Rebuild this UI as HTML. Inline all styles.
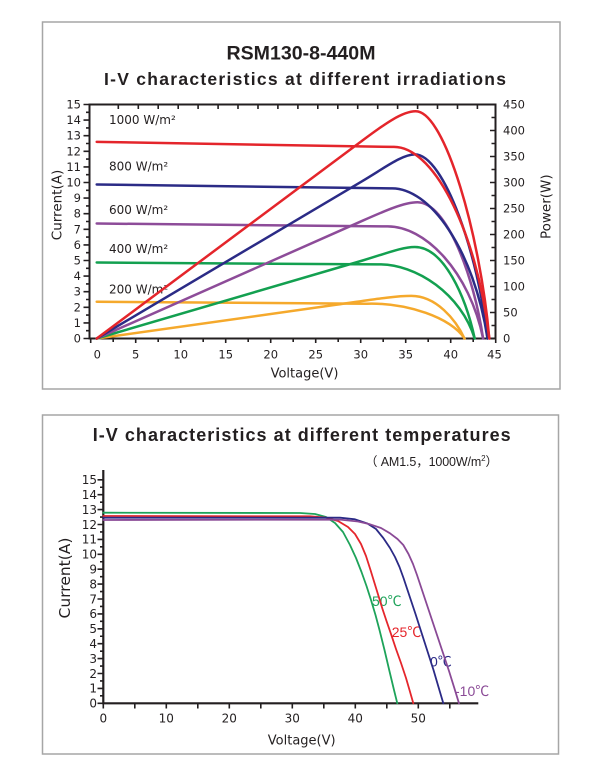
<!DOCTYPE html>
<html><head><meta charset="utf-8"><style>
html,body{margin:0;padding:0;background:#fff;}
svg{display:block;}
.t{font-family:"Liberation Sans","Noto Sans CJK SC",sans-serif;fill:#231f20;}
.d{font-family:"DejaVu Sans","Liberation Sans",sans-serif;fill:#231f20;}
</style></head><body>
<svg width="600" height="771" viewBox="0 0 600 771" xmlns="http://www.w3.org/2000/svg">
<rect x="0" y="0" width="600" height="771" fill="#fff"/>
<!-- ============ TOP PANEL ============ -->
<rect x="42.5" y="22" width="517.5" height="367" fill="none" stroke="#a6a6a6" stroke-width="1.5"/>
<text class="t" x="301" y="59.5" font-size="19.5" font-weight="bold" text-anchor="middle" textLength="149" lengthAdjust="spacingAndGlyphs">RSM130-8-440M</text>
<text class="t" x="104" y="85" font-size="17.5" font-weight="bold" textLength="402" lengthAdjust="spacing">I-V characteristics at different irradiations</text>

<!-- irradiance labels -->
<g class="d" font-size="12">
<text x="109" y="124">1000 W/m²</text>
<text x="109" y="170.7">800 W/m²</text>
<text x="109" y="214">600 W/m²</text>
<text x="109" y="253">400 W/m²</text>
<text x="109" y="293.3">200 W/m²</text>
</g>

<!-- frame -->
<rect x="89.5" y="104.5" width="406" height="234" fill="none" stroke="#231f20" stroke-width="2"/>
<!-- left ticks -->
<path stroke="#231f20" stroke-width="1.6" fill="none" d="M83.5,338.5H89.5M83.5,322.9H89.5M83.5,307.3H89.5M83.5,291.7H89.5M83.5,276.1H89.5M83.5,260.5H89.5M83.5,244.9H89.5M83.5,229.3H89.5M83.5,213.7H89.5M83.5,198.1H89.5M83.5,182.5H89.5M83.5,166.9H89.5M83.5,151.3H89.5M83.5,135.7H89.5M83.5,120.1H89.5M83.5,104.5H89.5
M86,330.7H89.5M86,315.1H89.5M86,299.5H89.5M86,283.9H89.5M86,268.3H89.5M86,252.7H89.5M86,237.1H89.5M86,221.5H89.5M86,205.9H89.5M86,190.3H89.5M86,174.7H89.5M86,159.1H89.5M86,143.5H89.5M86,127.9H89.5M86,112.3H89.5"/>
<!-- right ticks -->
<path stroke="#231f20" stroke-width="1.6" fill="none" d="M490,338.5H495.5M490,312.5H495.5M490,286.5H495.5M490,260.5H495.5M490,234.5H495.5M490,208.5H495.5M490,182.5H495.5M490,156.5H495.5M490,130.5H495.5M490,104.5H495.5
M491.5,325.5H495.5M491.5,299.5H495.5M491.5,273.5H495.5M491.5,247.5H495.5M491.5,221.5H495.5M491.5,195.5H495.5M491.5,169.5H495.5M491.5,143.5H495.5M491.5,117.5H495.5"/>
<!-- bottom ticks -->
<path stroke="#231f20" stroke-width="1.6" fill="none" d="M90.7,338.5V343M113.2,338.5V342M135.7,338.5V343M158.2,338.5V342M180.7,338.5V343M203.2,338.5V342M225.7,338.5V343M248.2,338.5V342M270.7,338.5V343M293.2,338.5V342M315.7,338.5V343M338.2,338.5V342M360.7,338.5V343M383.2,338.5V342M405.7,338.5V343M428.2,338.5V342M450.7,338.5V343M473.2,338.5V342M495.7,338.5V343"/>
<!-- top ticks -->
<path stroke="#231f20" stroke-width="1.6" fill="none" d="M118.3,104.5V109M138.3,104.5V109M158.2,104.5V109M178.2,104.5V109M198.1,104.5V109M218.1,104.5V109M238,104.5V109M258,104.5V109M277.9,104.5V109M297.9,104.5V109M317.8,104.5V109M337.8,104.5V109M357.7,104.5V109M377.7,104.5V109M397.6,104.5V109M417.6,104.5V109M437.5,104.5V109M457.5,104.5V109M477.4,104.5V109"/>

<!-- left tick labels -->
<g class="d" font-size="11.5" text-anchor="end">
<text x="81" y="342.5">0</text><text x="81" y="326.9">1</text><text x="81" y="311.3">2</text><text x="81" y="295.7">3</text>
<text x="81" y="280.1">4</text><text x="81" y="264.5">5</text><text x="81" y="248.9">6</text><text x="81" y="233.3">7</text>
<text x="81" y="217.7">8</text><text x="81" y="202.1">9</text><text x="81" y="186.5">10</text><text x="81" y="170.9">11</text>
<text x="81" y="155.3">12</text><text x="81" y="139.7">13</text><text x="81" y="124.1">14</text><text x="81" y="108.5">15</text>
</g>
<!-- right tick labels -->
<g class="d" font-size="11.5">
<text x="503" y="342.7">0</text><text x="503" y="316.7">50</text><text x="503" y="290.7">100</text><text x="503" y="264.7">150</text>
<text x="503" y="238.7">200</text><text x="503" y="212.7">250</text><text x="503" y="186.7">300</text><text x="503" y="160.7">350</text>
<text x="503" y="134.7">400</text><text x="503" y="108.7">450</text>
</g>
<!-- bottom tick labels -->
<g class="d" font-size="11.5" text-anchor="middle">
<text x="97.3" y="358.5">0</text><text x="135.7" y="358.5">5</text><text x="180.7" y="358.5">10</text><text x="225.7" y="358.5">15</text>
<text x="270.7" y="358.5">20</text><text x="315.7" y="358.5">25</text><text x="360.7" y="358.5">30</text><text x="405.7" y="358.5">35</text>
<text x="450.7" y="358.5">40</text><text x="494.5" y="358.5">45</text>
</g>
<text class="d" x="304.5" y="377.5" font-size="13" text-anchor="middle">Voltage(V)</text>
<text class="d" font-size="13.5" text-anchor="middle" transform="translate(61.5,205) rotate(-90)">Current(A)</text>
<text class="d" font-size="13.5" text-anchor="middle" transform="translate(550.7,206.7) rotate(-90)">Power(W)</text>

<!-- curves -->
<g fill="none" stroke-width="2.5" stroke-linecap="round" stroke-linejoin="round">
<path stroke="#f5a92c" d="M96.7,301.8 L367,303.7 C406.9,302.6 451.2,317.6 464.5,338.5"/>
<path stroke="#f5a92c" d="M96.7,338.5 L336,304.8 C371.4,299.8 393.6,295.9 411.3,295.9 C436.1,295.9 455.6,319.3 464.5,338.5"/>
<path stroke="#13a050" d="M96.7,262.5 L377.2,264.4 C417.1,263.3 461.4,295.2 474.7,338.5"/>
<path stroke="#13a050" d="M96.7,338.5 L362.6,260.5 C384.7,254 401.6,247 414.8,247 C444.1,247 465.8,297.3 474.7,338.5"/>
<path stroke="#8d4c99" d="M96.7,223.5 L385.6,226.4 C425.5,224.7 469.8,273 483.1,338.5"/>
<path stroke="#8d4c99" d="M96.7,338.5 L362.6,220.7 C384.7,210.9 404.2,202.3 417.5,202.3 C446.7,202.3 474.2,277.2 483.1,338.5"/>
<path stroke="#2b2b86" d="M96.7,184.5 L390,188.4 C429.9,186.1 474.2,250.7 487.5,338.5"/>
<path stroke="#2b2b86" d="M96.7,338.5 L362.6,180.9 C384.7,167.8 402.4,154.4 414.8,154.4 C444.1,154.4 478.7,255.7 487.5,338.5"/>
<path stroke="#e4252b" d="M96.7,141.9 L391.8,146.9 C431.7,143.9 476,226.5 489.3,338.5"/>
<path stroke="#e4252b" d="M96.7,338.5 L362.6,140.4 C384.7,123.9 402.4,111.3 415.7,111.3 C445,111.3 480.4,236.2 489.3,338.5"/>
</g>

<!-- ============ BOTTOM PANEL ============ -->
<rect x="42.5" y="415" width="516" height="339" fill="none" stroke="#a6a6a6" stroke-width="1.5"/>
<text class="t" x="92.7" y="441" font-size="18" font-weight="bold" textLength="418" lengthAdjust="spacing">I-V characteristics at different temperatures</text>
<text class="t" x="365" y="466" font-size="12.5" fill="#333" textLength="133" lengthAdjust="spacing">（ AM1.5，1000W/m<tspan font-size="8" dy="-5">2</tspan><tspan dy="5">）</tspan></text>

<!-- axes -->
<path stroke="#231f20" stroke-width="2.2" fill="none" d="M103.3,470V704.4M102.2,703.3H478.3"/>
<path stroke="#231f20" stroke-width="1.6" fill="none" d="M97.5,703.3H103.3M97.5,688.4H103.3M97.5,673.5H103.3M97.5,658.6H103.3M97.5,643.7H103.3M97.5,628.8H103.3M97.5,613.9H103.3M97.5,599H103.3M97.5,584.1H103.3M97.5,569.2H103.3M97.5,554.3H103.3M97.5,539.4H103.3M97.5,524.5H103.3M97.5,509.6H103.3M97.5,494.7H103.3M97.5,479.8H103.3
M100,695.85H103.3M100,680.95H103.3M100,666.05H103.3M100,651.15H103.3M100,636.25H103.3M100,621.35H103.3M100,606.45H103.3M100,591.55H103.3M100,576.65H103.3M100,561.75H103.3M100,546.85H103.3M100,531.95H103.3M100,517.05H103.3M100,502.15H103.3M100,487.25H103.3
M103.3,703.3V708.5M134.8,703.3V708.5M166.3,703.3V708.5M197.8,703.3V708.5M229.3,703.3V708.5M260.8,703.3V708.5M292.3,703.3V708.5M323.8,703.3V708.5M355.3,703.3V708.5M386.8,703.3V708.5M418.3,703.3V708.5M449.8,703.3V708.5"/>
<g class="d" font-size="12" text-anchor="end">
<text x="97" y="707.6">0</text><text x="97" y="692.7">1</text><text x="97" y="677.8">2</text><text x="97" y="662.9">3</text>
<text x="97" y="648">4</text><text x="97" y="633.1">5</text><text x="97" y="618.2">6</text><text x="97" y="603.3">7</text>
<text x="97" y="588.4">8</text><text x="97" y="573.5">9</text><text x="97" y="558.6">10</text><text x="97" y="543.7">11</text>
<text x="97" y="528.8">12</text><text x="97" y="513.9">13</text><text x="97" y="499">14</text><text x="97" y="484.1">15</text>
</g>
<g class="d" font-size="12" text-anchor="middle">
<text x="103.3" y="722.7">0</text><text x="166.3" y="722.7">10</text><text x="229.3" y="722.7">20</text>
<text x="292.3" y="722.7">30</text><text x="355.3" y="722.7">40</text><text x="418.3" y="722.7">50</text>
</g>
<text class="d" x="301.7" y="744.5" font-size="13" text-anchor="middle">Voltage(V)</text>
<text class="d" font-size="15.5" text-anchor="middle" transform="translate(70,578) rotate(-90)">Current(A)</text>

<!-- temperature labels -->
<g font-family="'Liberation Sans','Noto Sans CJK SC',sans-serif" font-size="14">
<text x="372" y="606" fill="#1ea35a">50℃</text>
<text x="391.7" y="637" fill="#e5262c">25℃</text>
<text x="430" y="666.5" fill="#2b2a86">0℃</text>
<text x="455" y="696" fill="#8a4a96">-10℃</text>
</g>

<g fill="none" stroke-width="1.8" stroke-linejoin="round" stroke-linecap="round">
<polyline stroke="#1ea35a" points="103.3,512.7 300,513 315,514 326,517 335,523 343,532 350,545 356,558 361.5,572 366.5,586 371,600 375.5,615 379.5,630 384.5,650 389.2,670 394,690 397.3,703.3"/>
<polyline stroke="#e5262c" points="103.3,516 310,516.3 325,517.5 338,521 348,527 355,534 361,544 366,556 370.5,570 374.5,583 378.5,596 382.5,609 386.5,621 391,634 396,649 401,663 406,678 409.5,690 413.3,703.3"/>
<polyline stroke="#2b2a86" points="103.3,517.7 340,517.7 355,519.3 367,523.3 376,529 383.3,538 390,548 395,557 399.5,567 403.5,578 407.5,590 411.5,602 415.5,614 420,628 424.5,642 429,656 433.5,670 438.5,687 443.3,703.3"/>
<polyline stroke="#8a4a96" points="103.3,520 340,519.6 358,521.5 370,524.3 381,528 390,533.3 397.5,539 403.3,545 408.5,554 413,564 417,575 421,587 425,599 429,611 433,623 437,635 441,647 445,659 449,671 454,687 459,703.3"/>
</g>
</svg>
</body></html>
